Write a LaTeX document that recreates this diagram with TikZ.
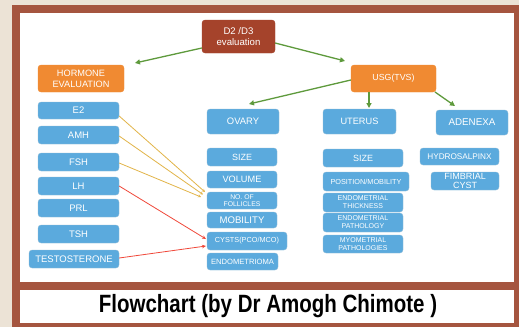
\documentclass[tikz,border=0pt]{standalone}
\usepackage{fontspec}
\setmainfont{Liberation Sans}
\usetikzlibrary{arrows.meta}
\definecolor{beige}{HTML}{ECE3D6}
\definecolor{frame}{HTML}{A5553F}
\definecolor{bluebox}{HTML}{5BAADD}
\definecolor{orangebox}{HTML}{F08A32}
\definecolor{darkred}{HTML}{A5432B}
\definecolor{arrowgreen}{HTML}{5E9A3C}
\definecolor{gold}{HTML}{E2B448}
\definecolor{redline}{HTML}{F0483A}
\newcommand{\fs}[1]{\fontsize{#1}{#1}\selectfont}
\tikzset{
  box/.style={rectangle, rounded corners=3pt, fill=bluebox, draw=bluebox!85!black!60, line width=0.3pt, text=white, align=center, inner sep=0pt, font=\fs{9.5}},
  obox/.style={box, fill=orangebox, draw=orangebox},
  rbox/.style={box, fill=darkred, draw=darkred},
  garrow/.style={draw=arrowgreen, line width=1.3pt, -{Triangle[length=5pt,width=5pt]}},
  yline/.style={draw=gold, line width=0.8pt, -{Stealth[length=3pt,width=3pt]}},
  rline/.style={draw=redline, line width=0.8pt, -{Stealth[length=4pt,width=3.5pt]}},
}
\begin{document}
\begin{tikzpicture}[x=1pt,y=-1pt]
\useasboundingbox (0,0) rectangle (519,327);
\fill[beige] (0,0) rectangle (519,327);
\fill[frame] (12,5) rectangle (519,327);
\fill[white] (20,13) rectangle (514,282);
\fill[white] (20,290) rectangle (514,323);

% top
\node[rbox, minimum width=73pt, minimum height=33pt, font=\fontsize{9.6}{11.5}\selectfont] (d23) at (238.5,36.5) {D2 /D3\\evaluation};
\node[obox, minimum width=86pt, minimum height=27pt, font=\fontsize{9.2}{11}\selectfont] (horm) at (81,78.5) {HORMONE\\EVALUATION};
\node[obox, minimum width=85pt, minimum height=27pt, font=\fs{8.8}] (usg) at (393.5,78.5) {USG(TVS)};

% hormones
\node[box, minimum width=81pt, minimum height=17pt] (e2) at (78.5,110.5) {E2};
\node[box, minimum width=81pt, minimum height=18pt] (amh) at (78.5,135) {AMH};
\node[box, minimum width=81pt, minimum height=18pt] (fsh) at (78.5,162) {FSH};
\node[box, minimum width=81pt, minimum height=18pt] (lh) at (78.5,186) {LH};
\node[box, minimum width=81pt, minimum height=18pt] (prl) at (78.5,208) {PRL};
\node[box, minimum width=81pt, minimum height=18pt] (tsh) at (78.5,234) {TSH};
\node[box, minimum width=90pt, minimum height=18pt] (testo) at (74,259) {TESTOSTERONE};

% USG branches
\node[box, minimum width=72pt, minimum height=25pt, font=\fs{9.4}] (ovary) at (243,121.5) {OVARY};
\node[box, minimum width=73pt, minimum height=25pt, font=\fs{9.2}] (uterus) at (359.5,121.5) {UTERUS};
\node[box, minimum width=72pt, minimum height=25pt, font=\fs{9.8}] (adnexa) at (472,122.5) {ADENEXA};

% ovary column
\node[box, minimum width=70pt, minimum height=18pt, font=\fs{9}] (osize) at (242,157) {SIZE};
\node[box, minimum width=70pt, minimum height=17pt, font=\fs{9.2}] (volume) at (242,179.5) {VOLUME};
\node[box, minimum width=70pt, minimum height=17pt, font=\fontsize{6.8}{7}\selectfont] (foll) at (242,200.5) {NO. OF\\FOLLICLES};
\node[box, minimum width=70pt, minimum height=16pt, font=\fs{9.6}] (mobility) at (242,220) {MOBILITY};
\node[box, minimum width=80pt, minimum height=18pt, font=\fs{7.3}] (cysts) at (247,241) {CYSTS(PCO/MCO)};
\node[box, minimum width=71pt, minimum height=17pt, font=\fs{7.6}] (endomet) at (242.5,261.5) {ENDOMETRIOMA};

% uterus column
\node[box, minimum width=80pt, minimum height=18pt, font=\fs{9}] (usize) at (363,158) {SIZE};
\node[box, minimum width=86pt, minimum height=19pt, font=\fs{7.3}] (pos) at (366,181.5) {POSITION/MOBILITY};
\node[box, minimum width=80pt, minimum height=19pt, font=\fontsize{7}{8}\selectfont] (ethick) at (363,202.5) {ENDOMETRIAL\\THICKNESS};
\node[box, minimum width=80pt, minimum height=19pt, font=\fontsize{7}{8}\selectfont] (epath) at (363,222.5) {ENDOMETRIAL\\PATHOLOGY};
\node[box, minimum width=80pt, minimum height=18pt, font=\fontsize{7}{8}\selectfont] (myo) at (363,244) {MYOMETRIAL\\PATHOLOGIES};

% adnexa column
\node[box, minimum width=79pt, minimum height=17pt, font=\fs{8.2}] (hydro) at (459.5,156.5) {HYDROSALPINX};
\node[box, minimum width=68pt, minimum height=18pt, font=\fontsize{9}{9}\selectfont] (fimb) at (465,181) {FIMBRIAL\\CYST};

% caption
\node[font=\bfseries\fs{25}, inner sep=0pt] (cap) at (268,306) {\scalebox{0.82}[1]{Flowchart (by Dr Amogh Chimote )}};

% green arrows
\coordinate (t1) at (135,63);
\coordinate (t2) at (345,61);
\coordinate (t3) at (249,104);
\draw[garrow] (d23.west |- 0,48) -- (t1);
\draw[garrow] (d23.east |- 0,43) -- (t2);
\draw[garrow] (usg.west |- 0,80) -- (t3);
\draw[garrow] (369,92) -- (369,108);
\draw[garrow] (435,92) -- (455,106);

% gold lines
\coordinate (f1) at (205,192);
\coordinate (f2) at (203,194.5);
\coordinate (f3) at (201,197);
\draw[yline] (e2.east |- 0,116) -- (f1);
\draw[yline] (amh.east |- 0,136) -- (f2);
\draw[yline] (fsh.east |- 0,163) -- (f3);

% red lines
\coordinate (c1) at (206,239);
\coordinate (c2) at (206,246);
\draw[rline] (lh.east |- 0,186) -- (c1);
\draw[rline] (testo.east |- 0,258) -- (c2);
\end{tikzpicture}
\end{document}
